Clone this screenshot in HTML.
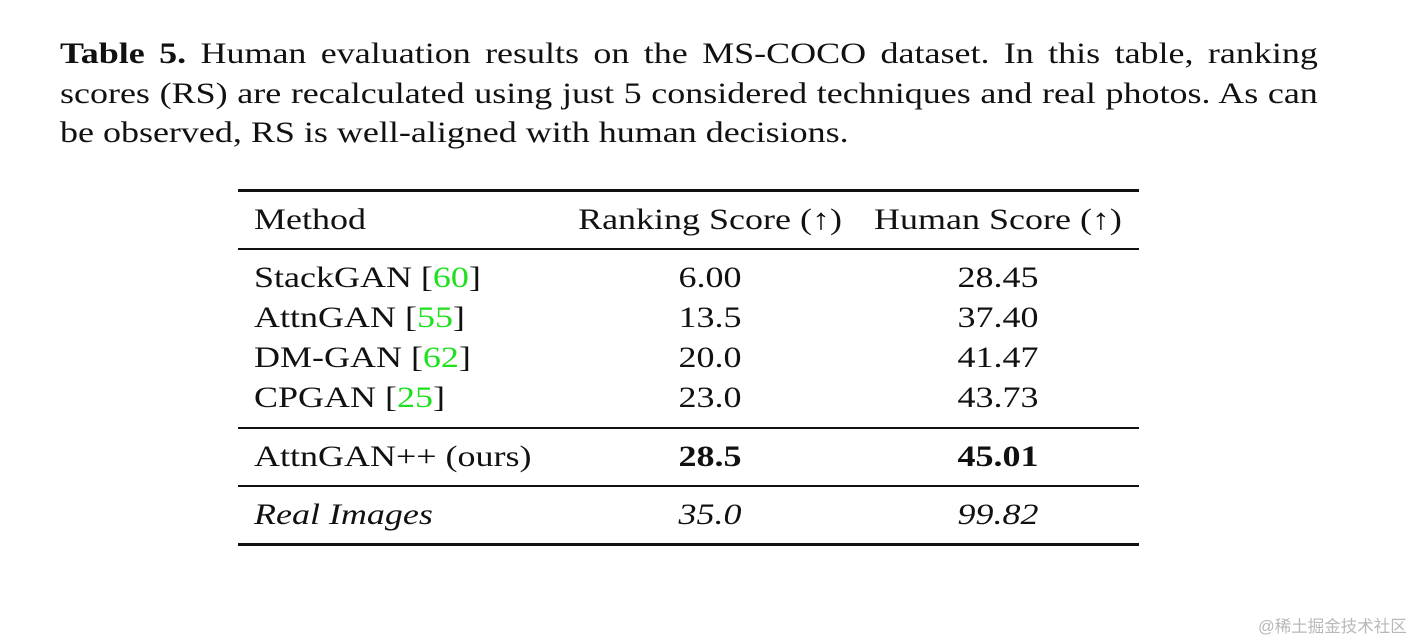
<!DOCTYPE html>
<html><head><meta charset="utf-8"><style>
html,body{margin:0;padding:0;background:#fff;}
body{width:1425px;height:641px;position:relative;overflow:hidden;font-family:"Liberation Serif",serif;color:#111;}
.cap{position:absolute;left:60px;width:1031px;font-size:29.5px;line-height:30px;white-space:nowrap;transform:scaleX(1.22);transform-origin:0 0;}
.j{text-align:justify;text-align-last:justify;white-space:normal;}
.rule{position:absolute;left:238px;width:901px;background:#111;}
.t{position:absolute;font-size:29.5px;line-height:30px;white-space:nowrap;transform:scaleX(1.22);}
.m{left:254px;transform-origin:0 0;}
.c1{left:560px;width:300px;text-align:center;transform-origin:50% 0;}
.c2{left:848px;width:300px;text-align:center;transform-origin:50% 0;}
.g{color:#1ee01e;}
.wm{position:absolute;left:1258px;top:613px;font-size:16.5px;color:#b8b8b8;font-family:"Liberation Sans","Noto Sans CJK SC",sans-serif;white-space:nowrap;}
</style></head><body>
<div class="cap j" style="top:39px"><b>Table 5.</b> Human evaluation results on the MS-COCO dataset. In this table, ranking</div>
<div class="cap j" style="top:79px">scores (RS) are recalculated using just 5 considered techniques and real photos. As can</div>
<div class="cap" style="top:118px">be observed, RS is well-aligned with human decisions.</div>

<div>
<div class="rule" style="top:189px;height:3px"></div>
<div class="t m" style="top:205px">Method</div>
<div class="t c1" style="top:205px">Ranking Score (↑)</div>
<div class="t c2" style="top:205px">Human Score (↑)</div>
<div class="rule" style="top:248px;height:2px"></div>

<div class="t m" style="top:263px">StackGAN [<span class="g">60</span>]</div>
<div class="t c1" style="top:263px">6.00</div>
<div class="t c2" style="top:263px">28.45</div>

<div class="t m" style="top:303px">AttnGAN [<span class="g">55</span>]</div>
<div class="t c1" style="top:303px">13.5</div>
<div class="t c2" style="top:303px">37.40</div>

<div class="t m" style="top:343px">DM-GAN [<span class="g">62</span>]</div>
<div class="t c1" style="top:343px">20.0</div>
<div class="t c2" style="top:343px">41.47</div>

<div class="t m" style="top:383px">CPGAN [<span class="g">25</span>]</div>
<div class="t c1" style="top:383px">23.0</div>
<div class="t c2" style="top:383px">43.73</div>

<div class="rule" style="top:427px;height:2px"></div>
<div class="t m" style="top:442px">AttnGAN++ (ours)</div>
<div class="t c1" style="top:442px;font-weight:bold">28.5</div>
<div class="t c2" style="top:442px;font-weight:bold">45.01</div>

<div class="rule" style="top:485px;height:2px"></div>
<div class="t m" style="top:500px;font-style:italic">Real Images</div>
<div class="t c1" style="top:500px;font-style:italic">35.0</div>
<div class="t c2" style="top:500px;font-style:italic">99.82</div>
<div class="rule" style="top:543px;height:3px"></div>
</div>

<div class="wm">@稀土掘金技术社区</div>
</body></html>
